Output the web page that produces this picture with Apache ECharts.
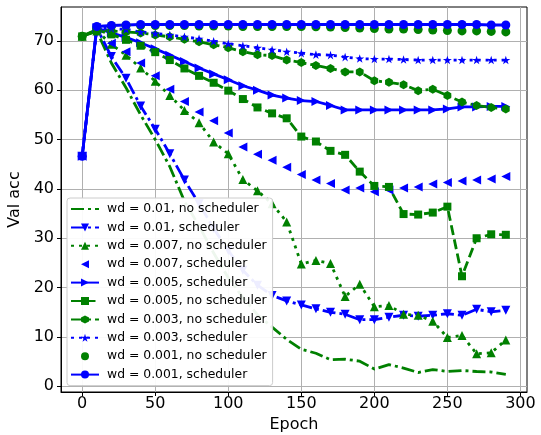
<!DOCTYPE html>
<html>
<head>
<meta charset="utf-8">
<script src="https://cdn.jsdelivr.net/npm/echarts@6/dist/echarts.min.js"></script>
<style>
  html, body { margin: 0; padding: 0; background: #fff; }
  #chart { width: 541px; height: 435px; }
</style>
</head>
<body>
<div id="chart"></div>
<script>
// epochs, one point every 10
const epochs = [0, 10, 20, 30, 40, 50, 60, 70, 80, 90, 100, 110, 120, 130, 140,
  150, 160, 170, 180, 190, 200, 210, 220, 230, 240, 250, 260, 270, 280, 290];
const xTicks = [0, 50, 100, 150, 200, 250, 300];
const yTicks = [0, 10, 20, 30, 40, 50, 60, 70];

// values
const wd01NoSched = [70.9, 72.0, 65.5, 60.5, 55.0, 50.0, 44.5, 37.5, 32.5, 27.0,
  22.0, 18.0, 14.5, 12.0, 9.5, 7.5, 6.7, 5.4, 5.5, 5.1, 3.5, 4.4, 3.7, 2.8, 3.4,
  3.0, 3.2, 3.0, 2.9, 2.4];
const wd01Sched = [46.6, 72.6, 66.8, 62.4, 56.8, 52.1, 47.1, 41.8, 37.0, 32.0,
  27.5, 23.5, 20.5, 18.4, 17.3, 16.5, 15.7, 15.0, 14.6, 13.5, 13.5, 14.0, 14.4,
  14.2, 14.4, 14.7, 14.4, 15.6, 15.1, 15.4];
const wd007NoSched = [70.9, 72.0, 69.3, 67.1, 64.5, 61.8, 58.9, 55.9, 53.4, 49.5,
  47.1, 41.9, 39.6, 37.0, 33.3, 24.8, 25.5, 24.9, 18.2, 20.7, 16.1, 16.4, 14.6,
  14.4, 13.2, 9.9, 10.3, 6.6, 6.8, 9.4];
const wd007Sched = [46.6, 72.2, 69.5, 67.8, 65.5, 62.9, 60.2, 57.7, 55.6, 53.8,
  51.3, 48.5, 47.0, 45.8, 44.4, 42.9, 41.8, 41.1, 39.8, 40.2, 39.4, 39.8, 40.2,
  40.4, 41.0, 41.3, 41.6, 41.8, 42.0, 42.5];
const wd005Sched = [46.6, 72.6, 71.6, 70.7, 69.6, 68.4, 67.1, 65.8, 64.5, 63.3,
  62.1, 60.9, 60.0, 59.0, 58.4, 57.9, 57.7, 56.9, 56.0, 56.0, 56.0, 56.0, 56.0,
  56.0, 56.0, 56.2, 56.6, 56.6, 56.7, 56.7];
const wd005NoSched = [70.9, 72.2, 71.3, 70.2, 69.0, 67.7, 66.1, 64.4, 62.9, 61.5,
  59.9, 58.2, 56.5, 55.3, 54.3, 50.6, 49.6, 47.7, 46.9, 43.5, 40.6, 40.4, 34.9,
  34.8, 35.2, 36.4, 22.3, 30.0, 30.8, 30.7];
const wd003NoSched = [70.9, 72.3, 72.0, 71.8, 71.6, 71.2, 70.8, 70.3, 69.8, 69.2,
  68.6, 67.8, 67.2, 67.0, 66.1, 65.6, 65.0, 64.4, 63.7, 63.7, 61.9, 61.6, 61.1,
  59.9, 60.2, 58.9, 57.6, 56.9, 56.5, 56.2];
const wd003Sched = [46.6, 72.6, 72.5, 72.3, 71.8, 71.5, 71.2, 70.8, 70.4, 69.9,
  69.4, 69.0, 68.6, 68.2, 67.8, 67.5, 67.2, 67.1, 66.7, 66.4, 66.3, 66.3, 66.2,
  66.1, 66.1, 66.1, 66.1, 66.1, 66.1, 66.1];
const wd001NoSched = [70.9, 72.5, 73.0, 73.1, 73.1, 73.1, 73.1, 73.1, 73.0, 73.0,
  73.0, 72.9, 72.9, 72.9, 72.9, 72.9, 72.85, 72.8, 72.7, 72.6, 72.5, 72.4, 72.4,
  72.3, 72.2, 72.1, 72.0, 72.0, 71.9, 71.8];
const wd001Sched = [46.6, 72.9, 73.1, 73.2, 73.3, 73.3, 73.3, 73.3, 73.3, 73.3,
  73.3, 73.3, 73.3, 73.3, 73.3, 73.3, 73.3, 73.3, 73.3, 73.3, 73.3, 73.3, 73.3,
  73.3, 73.3, 73.3, 73.3, 73.3, 73.2, 73.2];

const GREEN = "#008000";
const BLUE = "#0000ff";
const DASHDOT = [13, 4, 3, 4];
const DASHED = [10, 4.5];
const DOTTED = [3, 5];
const STAR = "path://M50,0 L61.2,34.6 L97.6,34.5 L68.1,55.9 L79.4,90.5 L50,69 L20.6,90.5 L31.9,55.9 L2.4,34.5 L38.8,34.6 Z";
const HEX = "path://M50,0 L93.3,25 L93.3,75 L50,100 L6.7,75 L6.7,25 Z";

const pairs = vals => epochs.map((e, i) => [e, vals[i]]);

// name, values, colour, line type (null = no line), symbol, rotate
const makeSeries = (name, vals, color, line, symbol, rotate, noSymbol) => ({
  name: name,
  type: "line",
  data: pairs(vals),
  symbol: symbol,
  symbolSize: symbol === "rect" ? 8 : 9,
  symbolRotate: rotate || 0,
  symbolKeepAspect: true,
  showSymbol: !noSymbol,
  itemStyle: { color: color, opacity: noSymbol ? 0 : 1 },
  lineStyle: line === null
    ? { width: 0, opacity: 0, color: color }
    : { width: 2.8, color: color, type: line },
  emphasis: { disabled: true },
  silent: true,
  clip: true
});

const seriesList = [
  makeSeries("wd = 0.01, no scheduler", wd01NoSched, GREEN, DASHDOT, "circle", 0, true),
  makeSeries("wd = 0.01, scheduler", wd01Sched, BLUE, DASHDOT, "triangle", 180),
  makeSeries("wd = 0.007, no scheduler", wd007NoSched, GREEN, DOTTED, "triangle", 0),
  makeSeries("wd = 0.007, scheduler", wd007Sched, BLUE, null, "triangle", 90),
  makeSeries("wd = 0.005, scheduler", wd005Sched, BLUE, "solid", "triangle", -90),
  makeSeries("wd = 0.005, no scheduler", wd005NoSched, GREEN, DASHED, "rect", 0),
  makeSeries("wd = 0.003, no scheduler", wd003NoSched, GREEN, DASHDOT, HEX, 0),
  makeSeries("wd = 0.003, scheduler", wd003Sched, BLUE, DOTTED, STAR, 0),
  makeSeries("wd = 0.001, no scheduler", wd001NoSched, GREEN, null, "circle", 0),
  makeSeries("wd = 0.001, scheduler", wd001Sched, BLUE, "solid", "circle", 0)
];

const chart = echarts.init(document.getElementById("chart"), null, { renderer: "canvas" });
chart.setOption({
  animation: false,
  textStyle: { fontFamily: "DejaVu Sans" },
  grid: {
    left: 61, top: 7, right: 14, bottom: 43,
    show: true, borderColor: "#000", borderWidth: 1,
    containLabel: false, outerBoundsMode: "none"
  },
  legend: {
    orient: "vertical",
    left: 67, top: 198,
    itemWidth: 28, itemHeight: 10, itemGap: 6.4,
    padding: [5, 6, 5, 3],
    backgroundColor: "rgba(255,255,255,0.93)",
    borderColor: "#cccccc", borderWidth: 1, borderRadius: 3,
    selectedMode: false,
    textStyle: { fontFamily: "DejaVu Sans", fontSize: 12.4, color: "#000", padding: [0, 0, 0, 3] },
    data: seriesList.map((s, i) => i === 0 ? { name: s.name, itemStyle: { opacity: 0 } } : { name: s.name })
  },
  xAxis: {
    type: "value",
    min: -14.5, max: 304.5,
    name: "Epoch", nameLocation: "middle", nameGap: 17,
    nameTextStyle: { fontSize: 16, color: "#000", fontFamily: "DejaVu Sans" },
    axisLine: { show: true, onZero: false, lineStyle: { color: "#000", width: 1 } },
    axisTick: { show: true, length: 4, customValues: xTicks, lineStyle: { color: "#000" } },
    axisLabel: { customValues: xTicks, fontSize: 16, color: "#000", margin: 4, fontFamily: "DejaVu Sans" },
    splitLine: { show: true, lineStyle: { color: "#b0b0b0", width: 1 } }
  },
  yAxis: {
    type: "value",
    min: -1.15, max: 76.85,
    name: "Val acc", nameLocation: "middle", nameGap: 26,
    nameTextStyle: { fontSize: 16, color: "#000", fontFamily: "DejaVu Sans" },
    axisLine: { show: true, onZero: false, lineStyle: { color: "#000", width: 1 } },
    axisTick: { show: true, length: 4, customValues: yTicks, lineStyle: { color: "#000" } },
    axisLabel: { customValues: yTicks, fontSize: 16, color: "#000", margin: 7, fontFamily: "DejaVu Sans" },
    splitLine: { show: true, lineStyle: { color: "#b0b0b0", width: 1 } }
  },
  series: seriesList
});
</script>
</body>
</html>
